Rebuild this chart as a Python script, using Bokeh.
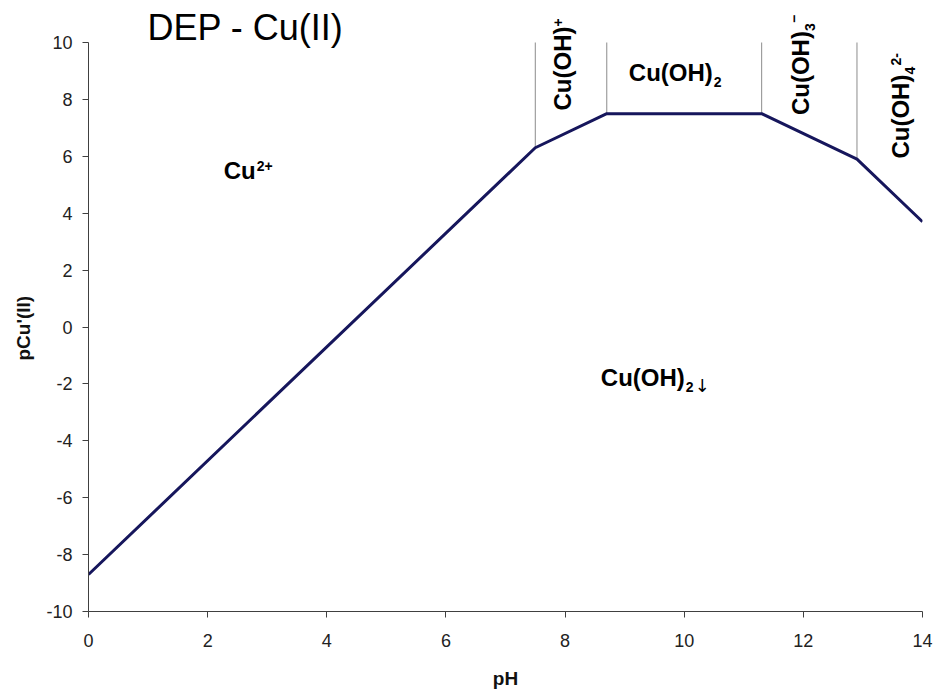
import math
from bokeh.plotting import figure
from bokeh.models import Range1d, FixedTicker, Label, Title
from bokeh.embed import file_html
from bokeh.resources import INLINE

# ---- data ----
ph = [0.0, 7.5, 8.7, 11.3, 12.9, 14.0]
pcu = [-8.7, 6.3, 7.5, 7.5, 5.9, 3.7]
x_ticks = [0, 2, 4, 6, 8, 10, 12, 14]
y_ticks = [-10, -8, -6, -4, -2, 0, 2, 4, 6, 8, 10]
title_text = "DEP - Cu(II)"
x_label = "pH"
y_label = "pCu'(II)"

W, H = 936, 693
L, R, T, B = 88, 14, 42, 82
T_FRAME = 4  # frame extends above the axis top so that labels can be drawn there
X0, X1, Y0, Y1 = 0, 14, -10, 10
SX = (W - L - R) / (X1 - X0)
SY = (H - T - B) / (Y1 - Y0)
Y_TOP = Y1 + (T - T_FRAME) / SY

p = figure(width=W, height=H, output_backend="svg", toolbar_location=None,
           x_range=Range1d(X0, X1), y_range=Range1d(Y0, Y_TOP),
           min_border_left=L, min_border_right=R, min_border_top=T_FRAME,
           min_border_bottom=B)
p.outline_line_color = None
p.grid.visible = False
p.background_fill_color = "white"
p.border_fill_color = "white"

for ax, ticks in ((p.xaxis, x_ticks), (p.yaxis, y_ticks)):
    ax.ticker = FixedTicker(ticks=ticks)
    ax.major_label_overrides = {t: str(t) for t in ticks}
    ax.axis_line_color = "#404040"
    ax.major_tick_line_color = "#404040"
    ax.major_tick_in = 0
    ax.major_tick_out = 6
    ax.minor_tick_line_color = None
    ax.major_label_text_font = "Liberation Sans"
    ax.major_label_text_font_size = "18px"
    ax.major_label_text_color = "#222222"
    ax.axis_label_text_font = "Liberation Sans"
    ax.axis_label_text_font_size = "19px"
    ax.axis_label_text_font_style = "bold"
    ax.axis_label_text_color = "#111111"
p.yaxis.bounds = (Y0, Y1)
p.xaxis.major_label_standoff = 16
p.yaxis.major_label_standoff = 10
p.xaxis.axis_label = x_label
p.xaxis.axis_label_standoff = 18

# y axis label as a side title so it can be centred on the axis span
p.add_layout(Title(text=y_label, align="left", offset=251, standoff=19,
                   text_font="Liberation Sans", text_font_size="19px",
                   text_font_style="bold", text_color="#111111"), "left")

# boundary lines between species
p.segment(x0=ph[1:5], y0=pcu[1:5], x1=ph[1:5], y1=[Y1] * 4,
          line_color="#8c8c8c", line_width=1)
# main curve
p.line(ph, pcu, line_color="#16165c", line_width=3)

FONT = "Liberation Sans"
BASE_FIX = 0.42  # raise text so its alphabetic baseline sits on the anchor


def add_text(ax, ay, text, along, up, size, angle=0.0, bold=True, font=FONT):
    up = up + BASE_FIX * size
    if angle == 0.0:
        x = ax + along / SX
        y = ay + up / SY
    else:
        x = ax - up / SX
        y = ay + along / SY
    p.add_layout(Label(x=x, y=y, text=text, angle=angle,
                       text_font=font, text_font_size=f"{size}px",
                       text_font_style="bold" if bold else "normal",
                       text_align="left", text_baseline="alphabetic",
                       text_color="black"))


V = math.pi / 2
MS, SS = 24, 14  # main and sub/sup font sizes
W_MAIN = 3.499 * MS  # width of "Cu(OH)"

# title
add_text(0.99, 10.0, title_text, 0, 0, 36, bold=False)
# Cu2+
add_text(2.27, 5.15, "Cu", 0, 0, MS)
add_text(2.27, 5.15, "2+", 1.333 * MS + 1, 9, SS)
# Cu(OH)2
add_text(9.07, 8.59, "Cu(OH)", 0, 0, MS)
add_text(9.07, 8.59, "2", W_MAIN + 1, -5, SS)
# Cu(OH)+
add_text(8.13, 7.61, "Cu(OH)", 0, 0, MS, V)
add_text(8.13, 7.61, "+", W_MAIN, 9, SS, V)
# Cu(OH)3-
add_text(12.12, 7.45, "Cu(OH)", 0, 0, MS, V)
add_text(12.12, 7.45, "3", W_MAIN, -5, SS, V)
add_text(12.12, 7.45, "\u2212", W_MAIN + 8, 11, SS, V)
# Cu(OH)4 2-
add_text(13.80, 5.92, "Cu(OH)", 0, 0, MS, V)
add_text(13.80, 5.92, "4", W_MAIN, -5, SS, V)
add_text(13.80, 5.92, "2-", W_MAIN + 9, 9, SS, V)
# Cu(OH)2 precipitate
add_text(8.60, -2.13, "Cu(OH)", 0, 0, MS)
add_text(8.60, -2.13, "2", W_MAIN + 1, -5, SS)
add_text(8.60, -2.13, "\u2193", W_MAIN + 10, -5, 18, bold=False,
         font="DejaVu Sans")

open("out.html", "w").write(file_html(p, INLINE))
